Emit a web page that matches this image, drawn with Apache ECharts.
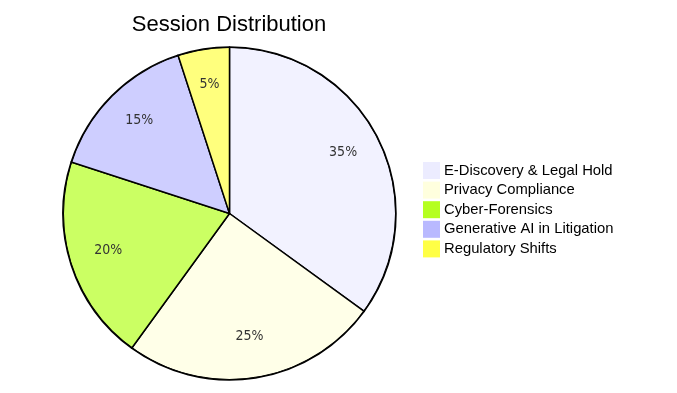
<!DOCTYPE html>
<html><head><meta charset="utf-8">
<script src="https://cdn.jsdelivr.net/npm/echarts@6/dist/echarts.min.js"></script>
<style>html,body{margin:0;padding:0;background:#fff}#c{width:677px;height:393px}</style>
</head><body><div id="c"></div>
<script>
const titleText = 'Session Distribution';
const categories = ['E-Discovery & Legal Hold','Privacy Compliance','Cyber-Forensics','Generative AI in Litigation','Regulatory Shifts'];
const values = [35, 25, 20, 15, 5];
const legendColors = ['#ECECFF','#FFFFDE','#B5FF20','#B9B9FF','#FFFF45'];
const sliceColors = ['#F2F2FF','#FFFFE8','#CBFF63','#CECEFF','#FFFF7D'];
const FONT = "'trebuchet ms', 'Liberation Sans', Arial, sans-serif";
const LFONT = "'DejaVu Sans Condensed', 'Liberation Sans', sans-serif";
const total = values.reduce((a,b)=>a+b,0);
const chart = echarts.init(document.getElementById('c'), null, {renderer:'canvas'});
chart.setOption({
  animation:false,
  title:{text:titleText,left:229,textAlign:'center',top:14,padding:0,textStyle:{fontFamily:FONT,fontSize:22,fontWeight:'normal',color:'#000'}},
  legend:{orient:'vertical',left:423,top:162,padding:0,itemWidth:17,itemHeight:17,itemGap:2.6,icon:'rect',
    textStyle:{fontFamily:FONT,fontSize:14.8,color:'#000',padding:[0,0,0,-1]},
    data:categories.map((n,i)=>({name:n,itemStyle:{color:legendColors[i],borderWidth:0}}))},
  series:[
    {type:'pie',center:[229.5,213.5],radius:[0,166.5],startAngle:90,clockwise:true,
     label:{show:false},labelLine:{show:false},emphasis:{disabled:true},
     itemStyle:{borderColor:'#000',borderWidth:1.5},
     data:categories.map((n,i)=>({name:n,value:values[i],itemStyle:{color:sliceColors[i]}}))},
    {type:'pie',center:[229.5,213.5],radius:[83,166],startAngle:90,clockwise:true,silent:true,
     legendHoverLink:false,emphasis:{disabled:true},
     label:{show:true,position:'inside',fontFamily:LFONT,fontSize:14,color:'#333',
       formatter:p=>'{t|'+Math.round(p.value/total*100)+'%}',
       rich:{t:{fontFamily:LFONT,fontSize:14,color:'#333',padding:[0,0,6,0]}}},
     itemStyle:{color:'rgba(0,0,0,0)',borderWidth:0},
     data:categories.map((n,i)=>({name:n,value:values[i]}))},
    {type:'pie',center:[229.5,213.5],radius:[165.5,166.5],startAngle:90,silent:true,emphasis:{disabled:true},
     label:{show:false},itemStyle:{color:'#000',borderWidth:0},
     data:[{name:'__ring',value:1}]}
  ]
});
</script></body></html>
